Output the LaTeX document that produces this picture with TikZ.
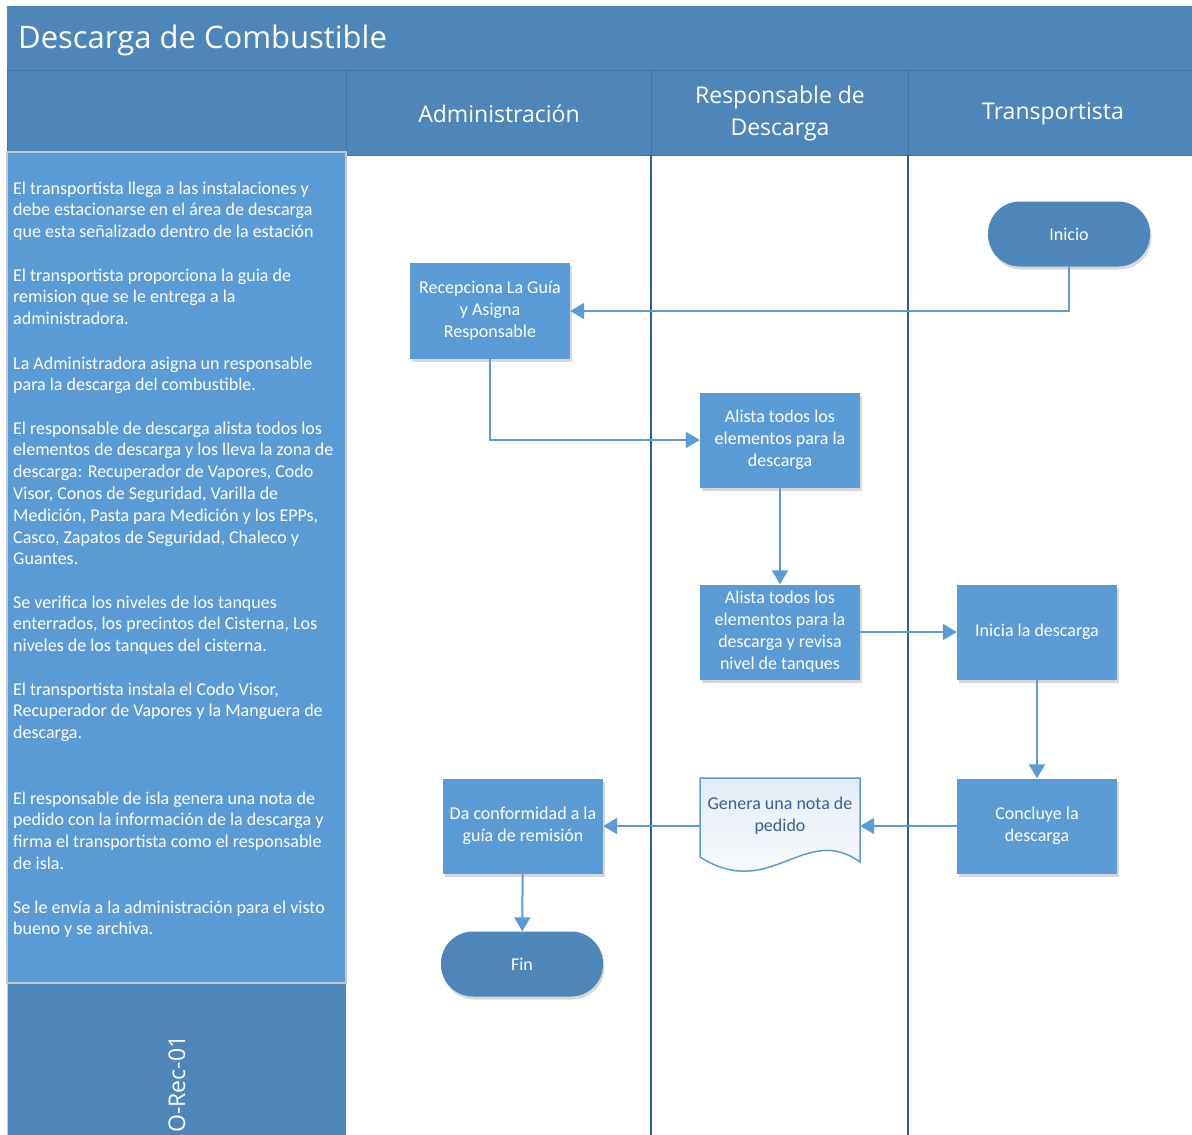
\documentclass[tikz,border=0pt]{standalone}
\usepackage{fontspec}
\setmainfont{Carlito}
\newfontfamily\headfont{Open Sans}
\usetikzlibrary{shadows,arrows.meta}

\definecolor{barblue}{HTML}{4E86BA}
\definecolor{panelblue}{HTML}{5B9BD5}
\definecolor{laneline}{HTML}{2F5F8F}
\definecolor{edgeblue}{HTML}{3F72A3}
\definecolor{doctext}{HTML}{3D5F8C}
\definecolor{panelrim}{HTML}{C4C9CF}
\definecolor{docfill}{HTML}{E3ECF7}

\begin{document}
\begin{tikzpicture}[x=1pt,y=-1pt,
  softshadow/.style={drop shadow={opacity=0.25, fill=black!60, shadow xshift=1.5pt, shadow yshift=-3pt}},
  proc/.style={rectangle, fill=panelblue, minimum width=160pt, minimum height=95pt,
    align=center, text=white, inner sep=0pt, font=\fontsize{18}{22}\selectfont, softshadow},
  term/.style={rectangle, rounded corners=32pt, fill=barblue, minimum width=162pt,
    minimum height=65pt, text=white, inner sep=0pt, font=\fontsize{18}{22}\selectfont, softshadow},
  lanehead/.style={rectangle, fill=barblue, draw=edgeblue, line width=1pt},
  headtext/.style={text=white, align=center, inner sep=0pt, font=\headfont\fontsize{23}{32}\selectfont},
  note/.style={anchor=north west, inner sep=0pt, align=left, text=white,
    font=\fontsize{18}{21.8}\selectfont},
  conn/.style={draw=panelblue, line width=2pt, -{Triangle[length=14pt,width=16pt]}}
]
\useasboundingbox (0,0) rectangle (1192,1135);
\fill[white] (0,0) rectangle (1192,1135);

% title bar
\fill[barblue] (7,6) rectangle (1192,70);
\node[anchor=west, text=white, inner sep=0pt, font=\headfont\fontsize{31}{38}\selectfont]
  (title) at (18,40) {Descarga de Combustible};

% header row
\node[lanehead, minimum width=339pt, minimum height=85pt] (corner) at (176.5,112.5) {};
\node[lanehead, minimum width=305pt, minimum height=85pt] (hadmin) at (498.5,112.5) {};
\node[lanehead, minimum width=257pt, minimum height=85pt] (hresp) at (779.5,112.5) {};
\node[lanehead, minimum width=284pt, minimum height=85pt] (htrans) at (1050,112.5) {};
\node[headtext] (tadmin) at (499,114) {Administración};
\node[headtext] (tresp) at (780,114) {Responsable de\\Descarga};
\node[headtext] (ttrans) at (1053,114) {Transportista};
\draw[edgeblue, line width=1pt] (7,70) -- (1192,70);

% lane separators
\draw[laneline, line width=1.6pt] (651,155) -- (651,1135);
\draw[laneline, line width=1.6pt] (908,155) -- (908,1135);

% description panel
\draw[fill=panelblue, draw=panelrim, line width=1.5pt] (7,152) rectangle (346,983);
\fill[barblue] (7,983) rectangle (346,1135);
\draw[panelrim, line width=1.5pt] (7,983) -- (346,983);
\draw[panelrim, line width=1pt] (7,983) -- (7,1135);
\node[rotate=90, text=white, inner sep=0pt, font=\headfont\fontsize{23}{28}\selectfont]
  (code) at (177,1084) {O-Rec-01};

\node[note] (p1) at (13,178.7) {\strut El transportista llega a las instalaciones y\\debe estacionarse en el área de descarga\\que esta señalizado dentro de la estación};
\node[note] (p2) at (13,265.7) {\strut El transportista proporciona la guia de\\remision que se le entrega a la\\administradora.};
\node[note] (p3) at (13,353.7) {\strut La Administradora asigna un responsable\\para la descarga del combustible.};
\node[note] (p4) at (13,418.7) {\strut El responsable de descarga alista todos los\\elementos de descarga y  los lleva la zona de\\descarga:  Recuperador de Vapores, Codo\\Visor, Conos de Seguridad, Varilla de\\Medición, Pasta para Medición y los EPPs,\\Casco, Zapatos de Seguridad, Chaleco y\\Guantes.};
\node[note] (p5) at (13,592.7) {\strut Se verifica los niveles de los tanques\\enterrados, los precintos del Cisterna, Los\\niveles de los tanques del cisterna.};
\node[note] (p6) at (13,679.7) {\strut El transportista instala el Codo Visor,\\Recuperador de Vapores y  la Manguera de\\descarga.};
\node[note] (p7) at (13,788.7) {\strut El responsable de isla genera una nota de\\pedido con la información de la descarga y\\firma el transportista como el responsable\\de isla.};
\node[note] (p8) at (13,897.7) {\strut Se le envía a la administración para el visto\\bueno y se archiva.};

% flow shapes
\node[term] (inicio) at (1069,234) {Inicio};
\node[proc, minimum height=96pt] (recep) at (490,311) {Recepciona La Guía\\y Asigna\\Responsable};
\node[proc] (alista1) at (780,440) {Alista todos los\\elementos para la\\descarga};
\node[proc] (alista2) at (780,632) {Alista todos los\\elementos para la\\descarga y revisa\\nivel de tanques};
\node[proc] (inicia) at (1037,632) {Inicia la descarga};
\node[proc] (concl) at (1037,826) {Concluye la\\descarga};
\node[proc] (dacon) at (523,826) {Da conformidad a la\\guía de remisión};
\node[term] (fin) at (522,964) {Fin};

% document shape
\draw[draw=panelblue, line width=1.5pt, top color=docfill, bottom color=white]
  (700,778) -- (860,778) -- (860,862)
  .. controls (805,822) and (770,902) .. (700,857) -- cycle;
\node[minimum width=160pt, minimum height=80pt, inner sep=0pt] (genera) at (780,826) {};
\node[text=doctext, align=center, inner sep=0pt, font=\fontsize{18}{22}\selectfont]
  (generatxt) at (780,816) {Genera una nota de\\pedido};

% connectors
\draw[conn] (inicio.south) |- (recep.east);
\draw[conn] (recep.south) |- (alista1.west);
\draw[conn] (alista1) -- (alista2);
\draw[conn] (alista2) -- (inicia);
\draw[conn] (inicia) -- (concl);
\draw[conn] (concl) -- (genera.east);
\draw[conn] (genera.west) -- (dacon);
\draw[conn] (dacon) -- (fin);
\end{tikzpicture}
\end{document}
